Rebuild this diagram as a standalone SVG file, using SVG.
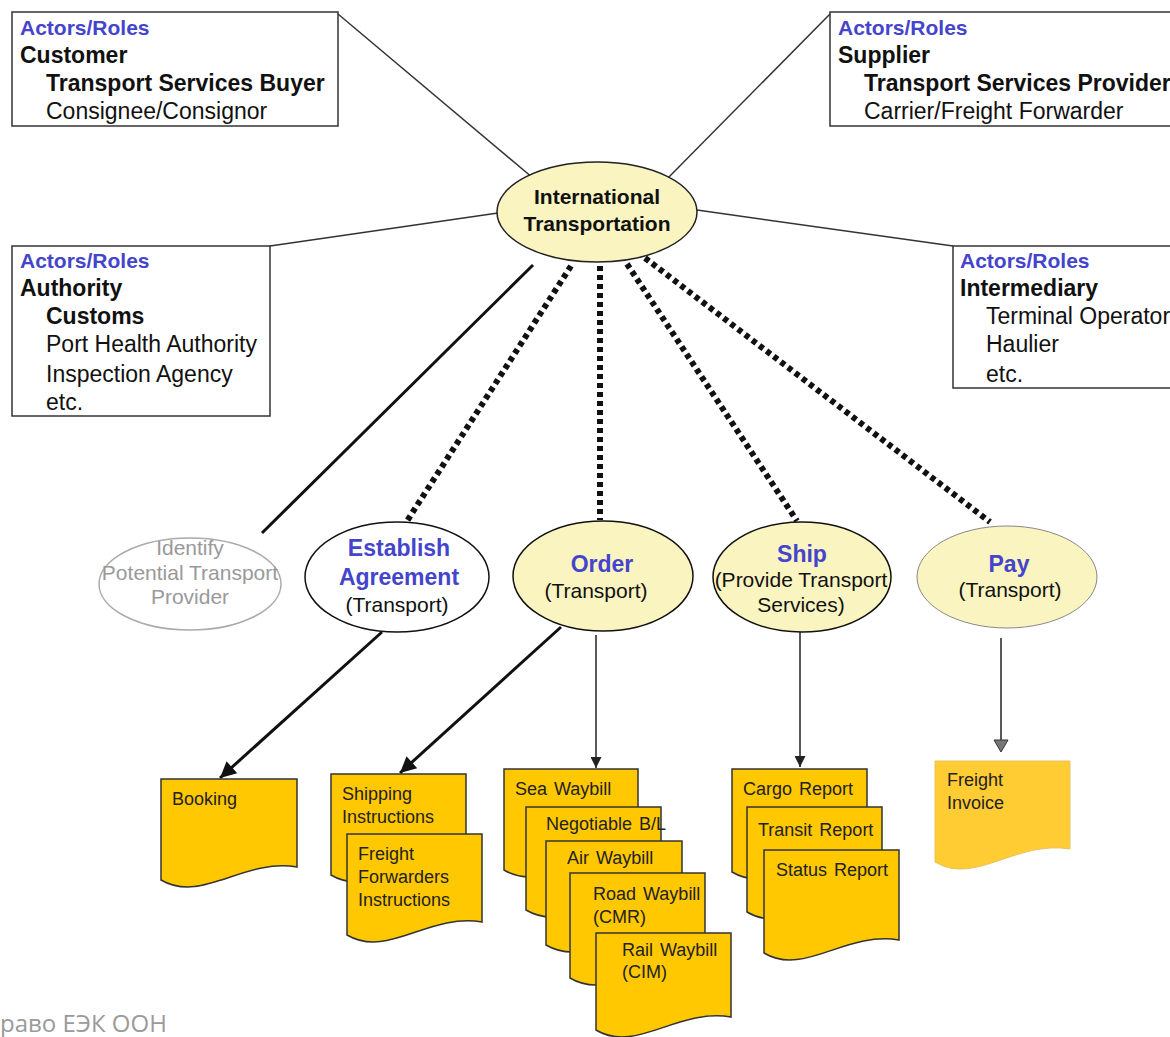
<svg xmlns="http://www.w3.org/2000/svg" width="1170" height="1037" viewBox="0 0 1170 1037">
<defs>
<style>
.t{font-family:"Liberation Sans",Arial,sans-serif;fill:#111}
.ar{font-size:21px;font-weight:bold;fill:#4444CC}
.b{font-size:23px;font-weight:bold}
.r{font-size:23px}
.box{fill:#fff;stroke:#333;stroke-width:1.5}
.link{stroke:#333;stroke-width:1.5;fill:none}
.dot{stroke:#111;stroke-width:6;stroke-dasharray:5 4;fill:none}
.eb{font-size:23px;font-weight:bold;fill:#4444CC}
.er{font-size:21px}
.doc{fill:#FFC800;stroke:#333;stroke-width:1.5}
.dt{font-size:18px;fill:#222;word-spacing:2px}
.thick{stroke:#111;stroke-width:3;fill:none}
.thin{stroke:#222;stroke-width:1.5;fill:none}
</style>
<marker id="ah" viewBox="0 0 10 10" refX="10" refY="5" markerUnits="userSpaceOnUse" markerWidth="20" markerHeight="16" orient="auto"><path d="M0,0 L10,5 L0,10 z" fill="#111"/></marker>
<marker id="ahs" viewBox="0 0 10 10" refX="10" refY="5" markerUnits="userSpaceOnUse" markerWidth="13" markerHeight="11" orient="auto"><path d="M0,0 L10,5 L0,10 z" fill="#222"/></marker>
</defs>
<rect width="1170" height="1037" fill="#fff"/>

<g id="connectors">
<line class="link" x1="338" y1="14" x2="533" y2="178"/>
<line class="link" x1="830" y1="14" x2="665" y2="181"/>
<line class="link" x1="270" y1="246" x2="498" y2="213"/>
<line class="link" x1="953" y1="246" x2="697" y2="210"/>
<line class="thick" x1="533" y1="265" x2="262" y2="533"/>
<line class="dot" x1="571" y1="266" x2="407" y2="521"/>
<line class="dot" x1="600" y1="266" x2="600" y2="520"/>
<line class="dot" x1="627" y1="264" x2="797" y2="521"/>
<line class="dot" x1="645" y1="258" x2="990" y2="522"/>
<line class="thick" x1="382" y1="632" x2="220" y2="778" marker-end="url(#ah)"/>
<line class="thick" x1="561" y1="627" x2="400" y2="773" marker-end="url(#ah)"/>
<line class="thin" x1="596" y1="635" x2="596" y2="768" marker-end="url(#ahs)"/>
<line class="thin" x1="800" y1="632" x2="800" y2="767" marker-end="url(#ahs)"/>
<line class="thin" x1="1001" y1="638" x2="1001" y2="741"/>
<polygon points="994,740 1008,740 1001,752" fill="#777" stroke="#333" stroke-width="1"/>
</g>

<g id="customer">
<rect class="box" x="12" y="12" width="326" height="114"/>
<text class="t ar" x="20" y="35">Actors/Roles</text>
<text class="t b" x="20" y="63">Customer</text>
<text class="t b" x="46" y="91">Transport Services Buyer</text>
<text class="t r" x="46" y="119">Consignee/Consignor</text>
</g>

<g id="supplier">
<rect class="box" x="830" y="12" width="360" height="114"/>
<text class="t ar" x="838" y="35">Actors/Roles</text>
<text class="t b" x="838" y="63">Supplier</text>
<text class="t b" x="864" y="91">Transport Services Provider</text>
<text class="t r" x="864" y="119">Carrier/Freight Forwarder</text>
</g>

<g id="authority">
<rect class="box" x="12" y="246" width="258" height="170"/>
<text class="t ar" x="20" y="268">Actors/Roles</text>
<text class="t b" x="20" y="296">Authority</text>
<text class="t b" x="46" y="324">Customs</text>
<text class="t r" x="46" y="352">Port Health Authority</text>
<text class="t r" x="46" y="382">Inspection Agency</text>
<text class="t r" x="46" y="410">etc.</text>
</g>

<g id="intermediary">
<rect class="box" x="953" y="246" width="240" height="142"/>
<text class="t ar" x="960" y="268">Actors/Roles</text>
<text class="t b" x="960" y="296">Intermediary</text>
<text class="t r" x="986" y="324">Terminal Operator</text>
<text class="t r" x="986" y="352">Haulier</text>
<text class="t r" x="986" y="382">etc.</text>
</g>

<g id="international">
<ellipse cx="597" cy="212" rx="100" ry="50" fill="#FAF4C0" stroke="#222" stroke-width="1.5"/>
<text class="t" x="597" y="204" text-anchor="middle" font-size="21" font-weight="bold">International</text>
<text class="t" x="597" y="231" text-anchor="middle" font-size="21" font-weight="bold">Transportation</text>
</g>

<g id="identify">
<ellipse cx="190" cy="584" rx="91" ry="46" fill="#fff" stroke="#aaa" stroke-width="1.5"/>
<text class="t er" x="190" y="555" text-anchor="middle" style="fill:#999">Identify</text>
<text class="t er" x="190" y="580" text-anchor="middle" style="fill:#999">Potential Transport</text>
<text class="t er" x="190" y="604" text-anchor="middle" style="fill:#999">Provider</text>
</g>

<g id="establish">
<ellipse cx="397" cy="577" rx="92" ry="55" fill="#fff" stroke="#111" stroke-width="1.5"/>
<text class="t eb" x="399" y="556" text-anchor="middle">Establish</text>
<text class="t eb" x="399" y="585" text-anchor="middle">Agreement</text>
<text class="t er" x="397" y="612" text-anchor="middle">(Transport)</text>
</g>

<g id="order">
<ellipse cx="603" cy="576" rx="90" ry="55" fill="#FAF4C0" stroke="#111" stroke-width="1.5"/>
<text class="t eb" x="602" y="572" text-anchor="middle">Order</text>
<text class="t er" x="596" y="598" text-anchor="middle">(Transport)</text>
</g>

<g id="ship">
<ellipse cx="802" cy="577" rx="89" ry="55" fill="#FAF4C0" stroke="#111" stroke-width="1.5"/>
<text class="t eb" x="802" y="562" text-anchor="middle">Ship</text>
<text class="t er" x="801" y="587" text-anchor="middle">(Provide Transport</text>
<text class="t er" x="801" y="612" text-anchor="middle">Services)</text>
</g>

<g id="pay">
<ellipse cx="1007" cy="577" rx="90" ry="51" fill="#FAF4C0" stroke="#888" stroke-width="1"/>
<text class="t eb" x="1009" y="572" text-anchor="middle">Pay</text>
<text class="t er" x="1010" y="597" text-anchor="middle">(Transport)</text>
</g>

<g id="booking">
<path class="doc" d="M161,779 H297 V867 C243,858 202,904 161,880 Z"/>
<text class="t dt" x="172" y="805">Booking</text>
</g>

<g id="shipping-instructions">
<path class="doc" d="M331,774 H466 V862 C412,853 371,899 331,875 Z"/>
<text class="t dt" x="342" y="800">Shipping</text>
<text class="t dt" x="342" y="823">Instructions</text>
</g>

<g id="ff-instructions">
<path class="doc" d="M347,834 H482 V922 C428,913 388,959 347,935 Z"/>
<text class="t dt" x="358" y="860">Freight</text>
<text class="t dt" x="358" y="883">Forwarders</text>
<text class="t dt" x="358" y="906">Instructions</text>
</g>

<g id="sea-waybill">
<path class="doc" d="M504,769 H638 V857 C584,848 544,894 504,870 Z"/>
<text class="t dt" x="515" y="795">Sea Waybill</text>
</g>

<g id="negotiable-bl">
<path class="doc" d="M526,807 H661 V897 C607,888 566,934 526,910 Z"/>
<text class="t dt" x="546" y="830">Negotiable B/L</text>
</g>

<g id="air-waybill">
<path class="doc" d="M546,841 H682 V932 C628,923 587,969 546,945 Z"/>
<text class="t dt" x="567" y="864">Air Waybill</text>
</g>

<g id="road-waybill">
<path class="doc" d="M570,873 H705 V965 C651,956 610,1002 570,978 Z"/>
<text class="t dt" x="593" y="900">Road Waybill</text>
<text class="t dt" x="593" y="923">(CMR)</text>
</g>

<g id="rail-waybill">
<path class="doc" d="M596,933 H731 V1017 C677,1008 636,1054 596,1030 Z"/>
<text class="t dt" x="622" y="956">Rail Waybill</text>
<text class="t dt" x="622" y="978">(CIM)</text>
</g>

<g id="cargo-report">
<path class="doc" d="M732,769 H867 V859 C813,850 772,896 732,872 Z"/>
<text class="t dt" x="743" y="795">Cargo Report</text>
</g>

<g id="transit-report">
<path class="doc" d="M747,807 H882 V899 C828,890 787,936 747,912 Z"/>
<text class="t dt" x="758" y="836">Transit Report</text>
</g>

<g id="status-report">
<path class="doc" d="M764,850 H899 V940 C845,931 804,977 764,953 Z"/>
<text class="t dt" x="776" y="876">Status Report</text>
</g>

<g id="freight-invoice">
<path d="M935,761 H1070 V849 C1016,840 975,886 935,862 Z" fill="#FFCC33" stroke="#E8C060" stroke-width="1"/>
<text class="t dt" x="947" y="786">Freight</text>
<text class="t dt" x="947" y="809">Invoice</text>
</g>

<text x="0" y="1032" font-family="'Open Sans','Noto Sans',sans-serif" font-size="24" fill="#9a9a9a">раво ЕЭК ООН</text>
</svg>
